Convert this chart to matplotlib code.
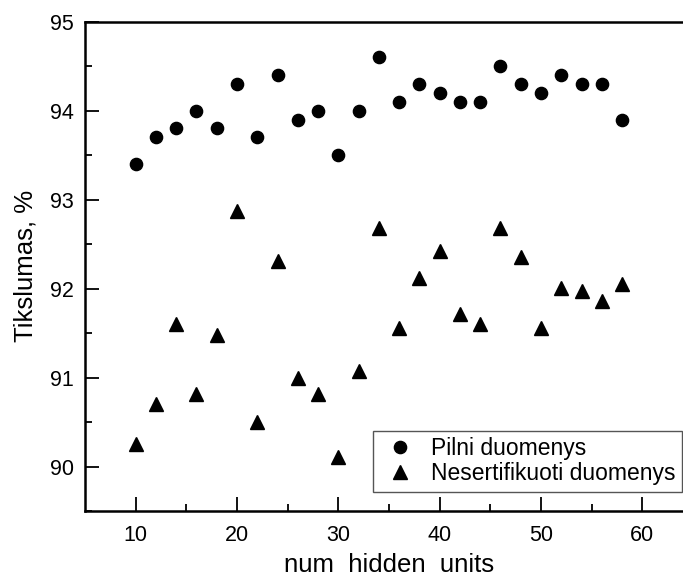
import matplotlib.pyplot as plt

plt.rcParams['font.family'] = ['Liberation Sans', 'DejaVu Sans']

# === DATA ===
hidden_units = [10, 12, 14, 16, 18, 20, 22, 24, 26, 28, 30, 32, 34,
                36, 38, 40, 42, 44, 46, 48, 50, 52, 54, 56, 58]
pilni = [93.4, 93.7, 93.8, 94.0, 93.8, 94.3, 93.7, 94.4, 93.9, 94.0, 93.5, 94.0, 94.6,
         94.1, 94.3, 94.2, 94.1, 94.1, 94.5, 94.3, 94.2, 94.4, 94.3, 94.3, 93.9]
nesertifikuoti = [90.25, 90.70, 91.60, 90.81, 91.48, 92.87, 90.50, 92.31, 90.99, 90.81, 90.11, 91.07, 92.68,
                  91.56, 92.12, 92.42, 91.71, 91.60, 92.68, 92.35, 91.56, 92.01, 91.97, 91.86, 92.05]

x_ticks = [10, 20, 30, 40, 50, 60]
y_ticks = [90, 91, 92, 93, 94, 95]

fig = plt.figure(figsize=(6.83, 5.79), dpi=100)
ax = fig.add_axes([85 / 683, 1 - 511 / 579, 608 / 683, (511 - 21.7) / 579])

ax.plot(hidden_units, pilni, linestyle='none', marker='o', markersize=8.8,
        color='black', label='Pilni duomenys')
ax.plot(hidden_units, nesertifikuoti, linestyle='none', marker='^', markersize=10,
        color='black', label='Nesertifikuoti duomenys')

ax.set_xlim(5, 65)
ax.set_ylim(89.5, 95)
ax.set_xticks(x_ticks)
ax.set_xticks(range(15, 65, 10), minor=True)
ax.set_yticks(y_ticks)
ax.set_yticks([89.5, 90.5, 91.5, 92.5, 93.5, 94.5], minor=True)
ax.tick_params(which='major', direction='in', length=10, width=1.3, labelsize=15.5)
ax.tick_params(axis='y', which='major', pad=8)
ax.tick_params(axis='x', which='major', pad=10)
ax.tick_params(which='minor', direction='in', length=5, width=1.3)
ax.tick_params(right=False, top=False)
for side in ax.spines.values():
    side.set_linewidth(1.8)

ax.set_xlabel('num  hidden  units', fontsize=18.5, labelpad=5)
ax.set_ylabel('Tikslumas, %', fontsize=18.5, labelpad=9)

leg = ax.legend(loc='lower right', bbox_to_anchor=(681.7 / 683, 1 - 491.7 / 579),
                bbox_transform=fig.transFigure, borderaxespad=0, fontsize=16.5,
                frameon=True, fancybox=False, framealpha=1, edgecolor='#555555',
                handletextpad=0.45, borderpad=0.28, labelspacing=0.1, handlelength=1.8)
leg.get_frame().set_linewidth(1.0)

fig.savefig('out.png', dpi=100)
